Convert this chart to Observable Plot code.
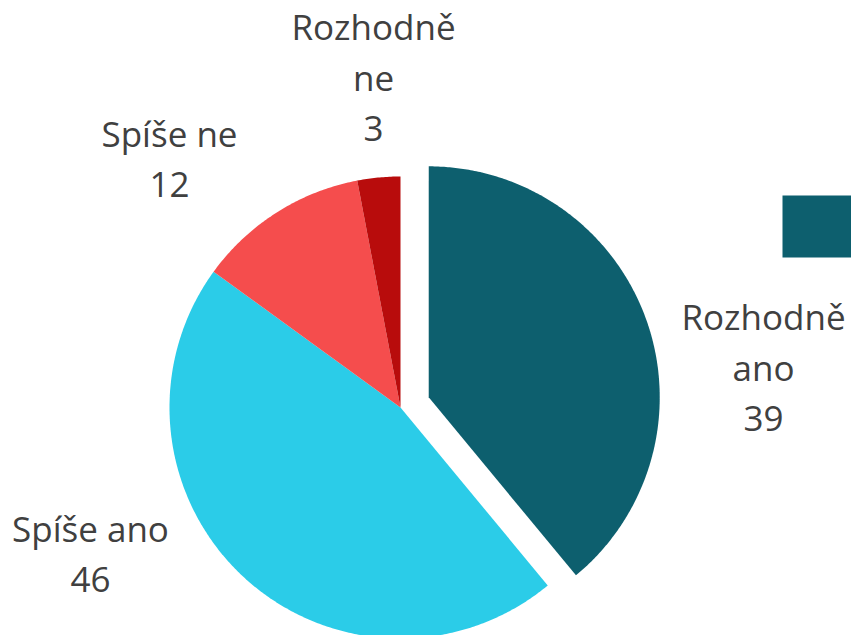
<!DOCTYPE html>
<html>
<head>
<meta charset="utf-8">
<script src="https://cdn.jsdelivr.net/npm/d3@7"></script>
<script src="https://cdn.jsdelivr.net/npm/@observablehq/plot@0.6"></script>
<style>
  html, body { margin: 0; padding: 0; background: #fff; }
  #chart { width: 851px; height: 635px; overflow: hidden; }
</style>
</head>
<body>
<div id="chart"></div>
<script>
// ---- data ----
const categories = ["Rozhodně ano", "Spíše ano", "Spíše ne", "Rozhodně ne"];
const labelTexts = ["Rozhodně\nano", "Spíše ano", "Spíše ne", "Rozhodně\nne"];
const values = [39, 46, 12, 3];
const colors = ["#0d5f6e", "#2bcce8", "#f54d4d", "#b80c0c"];

// ---- layout (pixels) ----
const W = 851, H = 635;
const cx = 400, cy = 407, R = 231;
const explode = [30, 0, 0, 0];
const labelPos = [[763, 364], [90, 550], [169, 155], [373, 74]];
const legendBox = [782, 195, 900, 257];

const pie = d3.pie().sort(null).value(d => d.value);
const arcs = pie(categories.map((c, i) => ({c, value: values[i], i})));

function slicePolygon(a) {
  const i = a.data.i;
  const mid = (a.startAngle + a.endAngle) / 2;
  const ox = cx + explode[i] * Math.sin(mid);
  const oy = cy - explode[i] * Math.cos(mid);
  const pts = [[ox, oy]];
  const n = Math.max(8, Math.ceil((a.endAngle - a.startAngle) * 120));
  for (let k = 0; k <= n; k++) {
    const t = a.startAngle + (a.endAngle - a.startAngle) * k / n;
    pts.push([ox + R * Math.sin(t), oy - R * Math.cos(t)]);
  }
  pts.push([ox, oy]);
  return {type: "Feature", properties: {i, name: a.data.c}, geometry: {type: "Polygon", coordinates: [pts]}};
}
const slices = arcs.map(slicePolygon);

const labels = arcs.map(a => ({
  x: labelPos[a.data.i][0],
  y: labelPos[a.data.i][1],
  text: labelTexts[a.data.i] + "\n" + a.data.value
}));

const legend = [{type: "Feature", properties: {i: 0}, geometry: {type: "Polygon", coordinates: [[
  [legendBox[0], legendBox[1]], [legendBox[2], legendBox[1]], [legendBox[2], legendBox[3]], [legendBox[0], legendBox[3]], [legendBox[0], legendBox[1]]
]]}}];

const chart = Plot.plot({
  width: W,
  height: H,
  margin: 0,
  projection: "identity",
  style: {background: "#fff", fontFamily: "'Open Sans', sans-serif"},
  marks: [
    Plot.geo(slices, {fill: d => colors[d.properties.i], stroke: "none"}),
    Plot.geo(legend, {fill: d => colors[d.properties.i], stroke: "none"}),
    Plot.text(labels, {
      x: "x", y: "y", text: "text",
      fontSize: 35, lineHeight: 1.43, lineAnchor: "middle", textAnchor: "middle",
      fill: "#404040"
    })
  ]
});
document.getElementById("chart").appendChild(chart);
</script>
</body>
</html>
